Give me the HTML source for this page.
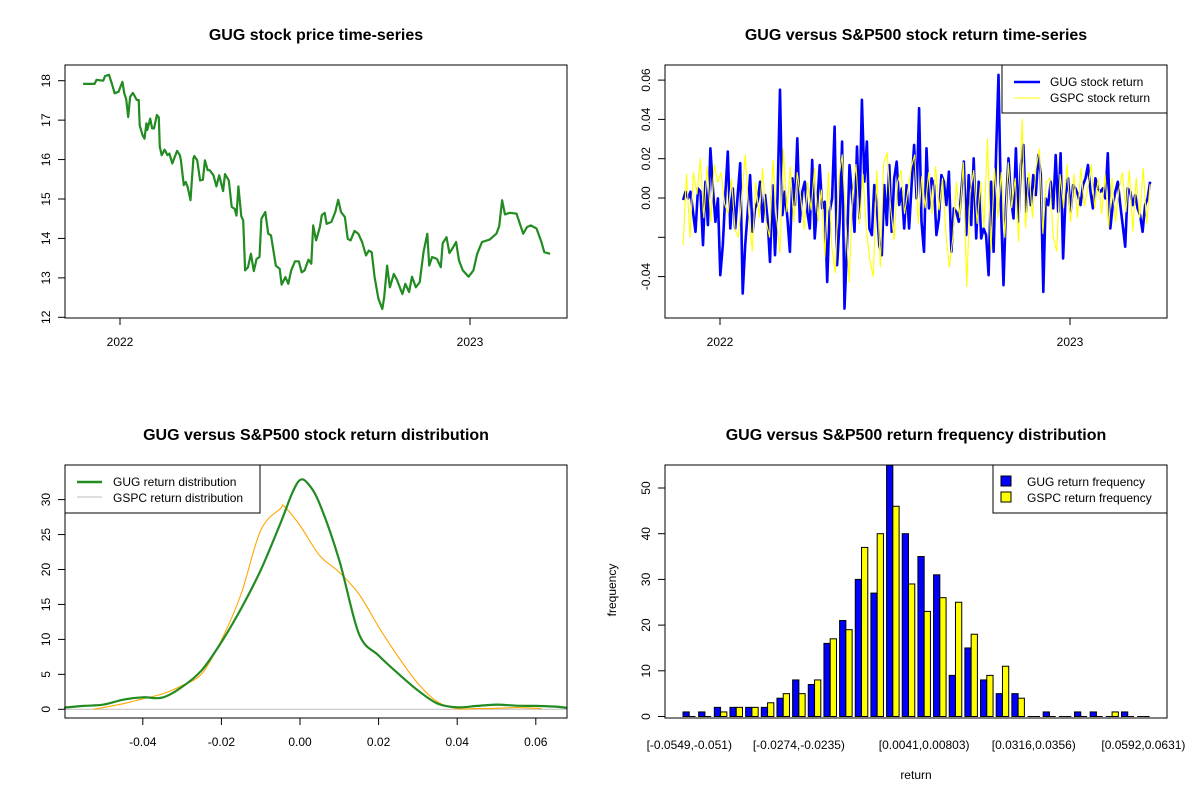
<!DOCTYPE html>
<html><head><meta charset="utf-8"><style>
html,body{margin:0;padding:0;background:#fff;}
svg{display:block;font-family:"Liberation Sans",Arial,sans-serif;}
</style></head><body>
<svg id="chart" width="1200" height="800" viewBox="0 0 1200 800" xmlns="http://www.w3.org/2000/svg"></svg>
<script>
// ---- Panel 1: price series (days since start, price)
const priceDays=[0,12,14,21,23,27,30,33,37,39,41,43,45,47,49,52,56,58,59,62,64,66,67,70,72,74,77,79,80,82,85,88,90,93,95,98,101,102,105,107,109,112,115,116,119,120,122,125,127,130,132,136,139,142,146,148,152,155,158,160,162,165,167,169,172,175,178,181,184,186,190,193,196,201,205,207,211,214,217,221,225,228,231,235,238,240,243,247,249,252,254,259,263,266,269,273,276,279,283,287,291,295,298,301,304,308,312,314,317,320,324,327,333,336,340,343,347,351,355,359,361,364,369,373,375,379,382,385,389,392,396,402,407,411,416,424,431,434,437,440,445,452,459,463,467,473,478,481,487];
const prices=[17.92,17.92,18.02,18.00,18.12,18.15,17.93,17.68,17.72,17.85,17.97,17.68,17.53,17.08,17.59,17.69,17.51,17.51,16.87,16.62,16.53,16.92,16.75,17.04,16.79,16.79,17.13,17.07,16.32,16.11,16.25,16.11,16.15,15.90,16.03,16.22,16.11,15.98,15.35,15.43,15.31,14.97,16.03,16.09,15.98,15.81,15.47,15.49,15.98,15.73,15.73,15.60,15.32,15.60,15.20,15.63,15.47,14.80,14.75,14.58,15.32,14.56,14.46,13.19,13.27,13.61,13.17,13.48,13.53,14.50,14.67,14.12,14.08,13.31,13.23,12.83,13.02,12.85,13.19,13.42,13.42,13.14,13.19,13.46,13.36,14.33,13.95,14.29,14.59,14.65,14.37,14.42,14.67,14.98,14.67,14.54,13.99,13.95,14.19,14.12,13.91,13.57,13.69,13.65,13.02,12.47,12.21,12.51,13.31,12.76,13.10,12.97,12.59,12.85,12.64,13.03,12.76,12.89,13.65,14.12,13.31,13.53,13.48,13.27,13.88,14.03,13.63,13.74,13.91,13.44,13.19,13.03,13.19,13.61,13.91,13.97,14.12,14.31,14.97,14.61,14.65,14.63,14.12,14.29,14.33,14.25,13.91,13.65,13.61];
const priceTicks=[12,13,14,15,16,17,18];
const yearTickDays=[38.5,403.5];
const yearTickLabels=["2022","2023"];
// ---- Panel 2: returns (evenly spaced from day 0 to day 487)
const returnSpanDays=[0,487];
const gugReturns=[-0.0010,0.0032,-0.0002,0.0032,-0.0070,-0.0172,0.0049,0.0032,-0.0240,0.0083,-0.0138,0.0253,0.0049,-0.0121,-0.0002,-0.0393,-0.0240,0.0015,0.0236,-0.0155,0.0049,-0.0155,0.0015,0.0177,-0.0486,-0.0240,-0.0070,0.0117,-0.0172,-0.0053,-0.0019,0.0083,-0.0121,0.0015,-0.0104,-0.0325,0.0066,-0.0291,-0.0002,0.0551,-0.0087,0.0032,-0.0104,-0.0274,0.0100,-0.0036,0.0304,-0.0121,0.0032,0.0083,-0.0070,-0.0155,0.0194,-0.0206,-0.0036,0.0168,-0.0053,-0.0019,-0.0427,-0.0070,-0.0002,0.0364,-0.0342,-0.0121,0.0287,-0.0563,-0.0240,0.0168,0.0015,-0.0172,0.0262,-0.0104,0.0500,0.0083,0.0287,-0.0155,-0.0189,0.0066,-0.0036,-0.0240,-0.0291,0.0066,-0.0138,0.0168,-0.0172,0.0100,0.0185,-0.0036,0.0049,-0.0155,0.0066,-0.0155,0.0066,0.0270,-0.0002,0.0457,-0.0121,-0.0274,0.0253,-0.0053,0.0100,0.0066,-0.0189,
-0.0104,0.0117,0.0083,-0.0036,0.0134,-0.0274,-0.0053,-0.0070,-0.0121,0.0032,0.0185,-0.0189,0.0117,-0.0138,0.0202,-0.0206,0.0083,-0.0206,-0.0155,-0.0189,-0.0393,0.0083,-0.0274,0.0228,0.0627,-0.0053,-0.0444,-0.0036,0.0202,-0.0002,-0.0104,0.0253,-0.0121,0.0168,0.0270,-0.0070,0.0100,-0.0036,0.0117,0.0015,0.0219,0.0117,-0.0478,-0.0002,-0.0036,0.0083,-0.0053,0.0219,-0.0070,0.0228,-0.0308,0.0015,0.0100,-0.0070,0.0066,0.0049,0.0015,-0.0036,0.0066,0.0100,0.0168,0.0032,-0.0053,0.0100,0.0049,0.0032,0.0049,-0.0002,0.0228,-0.0155,-0.0036,0.0032,0.0083,-0.0036,-0.0138,-0.0248,0.0049,0.0032,-0.0036,0.0015,-0.0053,-0.0087,-0.0172,-0.0036,-0.0002,0.0083];
const gspcReturns=[-0.024,0.012,-0.020,0.013,0.002,0.020,-0.010,0.016,-0.012,0.017,0.008,0.013,-0.003,-0.008,0.010,-0.016,-0.020,0.002,0.022,-0.008,-0.027,0.008,-0.010,0.015,-0.012,-0.020,0.019,-0.010,-0.028,0.025,-0.007,0.016,-0.012,0.013,0.000,-0.016,0.008,-0.006,0.015,-0.012,0.004,-0.030,0.013,-0.025,-0.038,0.010,0.022,-0.010,-0.043,0.003,0.017,-0.013,0.012,-0.016,-0.032,-0.040,0.014,-0.035,0.018,0.023,-0.005,-0.021,0.008,0.014,-0.008,0.004,0.016,0.022,-0.013,0.011,-0.005,
0.013,-0.008,0.016,-0.006,0.010,-0.019,-0.035,-0.020,0.008,-0.010,0.018,-0.045,0.003,0.014,-0.013,0.008,-0.015,0.030,-0.027,0.015,-0.010,0.013,-0.020,0.018,-0.005,0.010,-0.022,0.040,-0.015,0.013,-0.010,0.015,0.025,-0.018,0.008,0.010,-0.020,-0.027,0.012,-0.005,0.017,-0.012,0.012,-0.010,0.015,-0.004,0.005,0.017,-0.005,0.010,-0.008,0.012,-0.015,0.010,-0.012,0.004,0.013,-0.007,0.014,-0.017,0.010,-0.010,0.015,-0.013,0.007];
const returnTicks=[-0.04,-0.02,0,0.02,0.04,0.06];
const returnTickLabels=["-0.04","","0.00","0.02","0.04","0.06"];
// ---- Panel 3: densities
const gugDensX=[-0.060,-0.055,-0.050,-0.045,-0.040,-0.035,-0.030,-0.025,-0.020,-0.015,-0.010,-0.005,-0.002,0.000,0.002,0.005,0.010,0.015,0.020,0.025,0.030,0.035,0.040,0.045,0.050,0.055,0.060,0.065,0.068];
const gugDensY=[0.24,0.48,0.67,1.38,1.72,1.67,3.2,5.6,9.6,14.4,19.9,26.6,30.9,32.8,32.3,29.4,21.3,10.8,7.7,5.1,2.7,0.81,0.29,0.48,0.67,0.52,0.48,0.38,0.2];
const gspcDensX=[-0.0525,-0.045,-0.040,-0.035,-0.030,-0.025,-0.020,-0.015,-0.010,-0.005,-0.004,0.000,0.005,0.010,0.015,0.020,0.025,0.030,0.035,0.040,0.045,0.050,0.055,0.0615];
const gspcDensY=[0.0,0.8,1.5,2.2,3.4,5.1,9.9,16.5,25.6,28.7,29.0,26.3,22.0,19.6,16.5,11.8,7.5,3.7,1.05,0.1,0.1,0.14,0.24,0.1];
const densXTicks=[-0.04,-0.02,0,0.02,0.04,0.06];
const densXTickLabels=["-0.04","-0.02","0.00","0.02","0.04","0.06"];
const densYTicks=[0,5,10,15,20,25,30];
// ---- Panel 4: histogram
const binLabels=["[-0.0549,-0.051)","[-0.051,-0.0471)","[-0.0471,-0.0431)","[-0.0431,-0.0392)","[-0.0392,-0.0353)","[-0.0353,-0.0313)","[-0.0313,-0.0274)","[-0.0274,-0.0235)","[-0.0235,-0.0195)","[-0.0195,-0.0156)","[-0.0156,-0.0117)","[-0.0117,-0.00775)","[-0.00775,-0.00381)","[-0.00381,0.0001)","[0.0001,0.0041)","[0.0041,0.00803)","[0.00803,0.012)","[0.012,0.0159)","[0.0159,0.0198)","[0.0198,0.0238)","[0.0238,0.0277)","[0.0277,0.0316)","[0.0316,0.0356)","[0.0356,0.0395)","[0.0395,0.0434)","[0.0434,0.0474)","[0.0474,0.0513)","[0.0513,0.0553)","[0.0553,0.0592)","[0.0592,0.0631)"];
const shownBinLabels=[0,7,15,22,29];
const gugFreq=[1,1,2,2,2,2,4,8,7,16,21,30,27,55,40,35,31,9,15,8,5,5,0,1,0,1,1,0,1,0];
const gspcFreq=[0,0,1,2,2,3,5,5,8,17,19,37,40,46,29,23,26,25,18,9,11,4,0,0,0,0,0,1,0,0];
const freqTicks=[0,10,20,30,40,50];

const NS="http://www.w3.org/2000/svg";
const svg=document.getElementById('chart');
function mk(tag,attrs,parent){const e=document.createElementNS(NS,tag);for(const k in attrs)e.setAttribute(k,attrs[k]);(parent||svg).appendChild(e);return e;}
function txt(s,x,y,attrs,parent){const t=mk('text',Object.assign({x:x,y:y,'font-size':12,fill:'#000','text-anchor':'middle'},attrs||{}),parent);t.textContent=s;return t;}
function group(name){const g=mk('g',{});return g;}
function box(g,x0,y0,x1,y1){const r=mk('rect',{x:x0,y:y0,width:x1-x0,height:y1-y0,fill:'none',stroke:'#000','stroke-width':1},g);}
function yAxis(g,x0,ticks,labels,sy){ticks.forEach((v,i)=>{const y=sy(v);mk('line',{x1:x0-7,x2:x0,y1:y,y2:y,stroke:'#000'},g);const lb=labels[i];if(lb!==''){const t=txt(lb,x0-18,y,{transform:`rotate(-90 ${x0-18} ${y})`,'dominant-baseline':'middle'},g);}});}
function xAxis(g,y0,ticks,labels,sx){ticks.forEach((v,i)=>{const x=sx(v);mk('line',{x1:x,x2:x,y1:y0,y2:y0+7,stroke:'#000'},g);const t=txt(labels[i],x,y0+28,{},g);});}
function title(g,s,x,y){const t=txt(s,x,y,{'font-size':16,'font-weight':'bold'},g);}
function poly(g,xs,ys,sx,sy,color,w,name){const pts=xs.map((x,i)=>sx(x).toFixed(1)+','+sy(ys[i]).toFixed(1)).join(' ');const p=mk('polyline',{points:pts,fill:'none',stroke:color,'stroke-width':w,'stroke-linejoin':'round'},g);return p;}
function smooth(g,xs,ys,sx,sy,color,w,name){
 const P=xs.map((x,i)=>[sx(x),sy(ys[i])]);
 let d='M'+P[0][0].toFixed(1)+','+P[0][1].toFixed(1);
 for(let i=0;i<P.length-1;i++){const p0=P[Math.max(0,i-1)],p1=P[i],p2=P[i+1],p3=P[Math.min(P.length-1,i+2)];
  const c1=[p1[0]+(p2[0]-p0[0])/6,p1[1]+(p2[1]-p0[1])/6],c2=[p2[0]-(p3[0]-p1[0])/6,p2[1]-(p3[1]-p1[1])/6];
  d+=` C${c1[0].toFixed(1)},${c1[1].toFixed(1)} ${c2[0].toFixed(1)},${c2[1].toFixed(1)} ${p2[0].toFixed(1)},${p2[1].toFixed(1)}`;}
 const p=mk('path',{d:d,fill:'none',stroke:color,'stroke-width':w},g);}

// Panel 1
(function(){
 const g=group('price-panel');
 const sx=d=>120+(d-38.5)*350/365, sy=p=>80.7+(18-p)*39.43;
 title(g,'GUG stock price time-series',316,40);
 poly(g,priceDays,prices,sx,sy,'#228B22',2.2,'gug-price-line');
 box(g,65,65,567,318);
 yAxis(g,65,priceTicks,priceTicks.map(String),sy);
 xAxis(g,318,yearTickDays,yearTickLabels,sx);
})();
// Panel 2
(function(){
 const g=group('returns-panel');
 const sx=d=>720+(d-38.5)*350/365, sy=r=>198-r*1965;
 const dayAt=(i,n)=>returnSpanDays[0]+i*(returnSpanDays[1]-returnSpanDays[0])/(n-1);
 title(g,'GUG versus S&P500 stock return time-series',916,40);
 poly(g,gugReturns.map((v,i)=>dayAt(i,gugReturns.length)),gugReturns,sx,sy,'#0000ff',2.6,'gug-return-line');
 poly(g,gspcReturns.map((v,i)=>dayAt(i,gspcReturns.length)),gspcReturns,sx,sy,'#ffff00',1.1,'gspc-return-line');
 box(g,665,65,1167,318);
 yAxis(g,665,returnTicks,returnTickLabels,sy);
 xAxis(g,318,yearTickDays,yearTickLabels,sx);
 const lg=mk('g',{},g);
 mk('rect',{x:1002,y:65,width:165,height:48,fill:'#fff',stroke:'#000'},lg);
 mk('line',{x1:1014,x2:1040,y1:82,y2:82,stroke:'#0000ff','stroke-width':2.5},lg);
 mk('line',{x1:1014,x2:1040,y1:98,y2:98,stroke:'#ffff00','stroke-width':1},lg);
 txt('GUG stock return',1050,86,{'text-anchor':'start'},lg);
 txt('GSPC stock return',1050,102,{'text-anchor':'start'},lg);
})();
// Panel 3
(function(){
 const g=group('density-panel');
 const sx=v=>300+v*3930, sy=d=>709.3-d*6.99;
 title(g,'GUG versus S&P500 stock return distribution',316,440);
 mk('line',{x1:65,x2:567,y1:sy(0),y2:sy(0),stroke:'#bebebe','stroke-width':1},g);
 smooth(g,gspcDensX,gspcDensY,sx,sy,'#ffa500',1.1,'gspc-density-line');
 smooth(g,gugDensX,gugDensY,sx,sy,'#228B22',2.2,'gug-density-line');
 box(g,65,465,567,718);
 yAxis(g,65,densYTicks,densYTicks.map(String),sy);
 xAxis(g,718,densXTicks,densXTickLabels,sx);
 const lg=mk('g',{},g);
 mk('rect',{x:65,y:465,width:195,height:48,fill:'#fff',stroke:'#000'},lg);
 mk('line',{x1:77,x2:102,y1:482,y2:482,stroke:'#228B22','stroke-width':2.5},lg);
 mk('line',{x1:77,x2:102,y1:497,y2:497,stroke:'#bebebe','stroke-width':1},lg);
 txt('GUG return distribution',113,486,{'text-anchor':'start'},lg);
 txt('GSPC return distribution',113,502,{'text-anchor':'start'},lg);
})();
// Panel 4
(function(){
 const g=group('histogram-panel');
 const step=15.66, bw=step/2.5, x0=683;
 const gx=i=>x0+i*step, sy=f=>716.5-f*4.57;
 title(g,'GUG versus S&P500 return frequency distribution',916,440);
 function bar(x,v,fill,name){
  if(v>0){const r=mk('rect',{x:x,y:sy(v),width:bw,height:sy(0)-sy(v),fill:fill,stroke:'#000','stroke-width':1},g);
   
   }
  else{const l=mk('line',{x1:x,x2:x+bw,y1:sy(0),y2:sy(0),stroke:'#000','stroke-width':1},g);
   
   }
 }
 gugFreq.forEach((v,i)=>bar(gx(i),v,'#0000ff','gug-bar'));
 gspcFreq.forEach((v,i)=>bar(gx(i)+bw,v,'#ffff00','gspc-bar'));
 box(g,665,465,1167,718);
 yAxis(g,665,freqTicks,freqTicks.map(String),sy);
 shownBinLabels.forEach(i=>{const t=txt(binLabels[i],gx(i)+bw,749,{},g);});
 const xt=txt('return',916,779,{},g);
 const yt=txt('frequency',616,590,{transform:'rotate(-90 616 590)'},g);
 const lg=mk('g',{},g);
 mk('rect',{x:993,y:465,width:174,height:48,fill:'#fff',stroke:'#000'},lg);
 mk('rect',{x:1001,y:476,width:10,height:10,fill:'#0000ff',stroke:'#000'},lg);
 mk('rect',{x:1001,y:492,width:10,height:10,fill:'#ffff00',stroke:'#000'},lg);
 txt('GUG return frequency',1027,486,{'text-anchor':'start'},lg);
 txt('GSPC return frequency',1027,502,{'text-anchor':'start'},lg);
})();
</script>
</body></html>
